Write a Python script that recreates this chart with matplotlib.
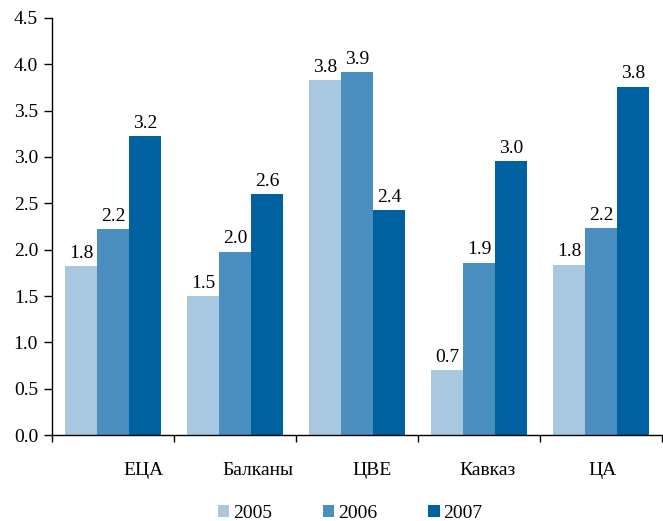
import matplotlib
matplotlib.use("Agg")
import matplotlib.pyplot as plt
import numpy as np
from matplotlib.patches import Patch

plt.rcParams['font.family'] = 'serif'
plt.rcParams['font.serif'] = ['Liberation Serif', 'DejaVu Serif']
FAM = 'Liberation Serif'

categories = ["ЕЦА", "Балканы", "ЦВЕ", "Кавказ", "ЦА"]
series_names = ["2005", "2006", "2007"]
v2005 = [1.82, 1.50, 3.83, 0.70, 1.84]
v2006 = [2.22, 1.98, 3.92, 1.86, 2.23]
v2007 = [3.23, 2.60, 2.43, 2.96, 3.76]
colors = ["#a7c8df", "#4a8fc0", "#0061a1"]
label_offsets = [0.25, 0.19, 0.12, 0.07, 0.01]

fig = plt.figure(figsize=(6.63, 5.21), dpi=100)
ax = fig.add_axes([0.0784, 0.165, 0.9201, 0.8005])

x = np.arange(len(categories))
w = 0.262
for i, (vals, col) in enumerate(zip([v2005, v2006, v2007], colors)):
    pos = x + (i - 1) * w
    ax.bar(pos, vals, width=w, color=col, edgecolor='none')
    for p, v in zip(pos, vals):
        ax.annotate(f"{v:.1f}", (p, v), xytext=(0, 3), textcoords='offset points',
                    ha='center', va='bottom', fontsize=14, family=FAM)

ax.set_xlim(-0.5, len(categories) - 0.5)
ax.set_ylim(0, 4.5)
yt = np.arange(0, 4.51, 0.5)
ax.set_yticks(yt)
ax.set_yticklabels([f"{t:.1f}" for t in yt], fontsize=14, family=FAM)
ax.set_xticks(np.arange(-0.5, len(categories), 1.0))
ax.set_xticklabels([])
ax.tick_params(axis='x', direction='out', length=5, width=1)
ax.tick_params(axis='y', direction='out', length=6, width=1, pad=4)
for s in ['top', 'right']:
    ax.spines[s].set_visible(False)
for s in ['left', 'bottom']:
    ax.spines[s].set_linewidth(1)

for xi, cat, off in zip(x, categories, label_offsets):
    ax.text(xi + off, -0.385, cat, ha='center', va='center', fontsize=14,
            family=FAM, transform=ax.transData)

handles = [Patch(facecolor=c, edgecolor='none') for c in colors]
fig.legend(handles, series_names, loc='center', bbox_to_anchor=(0.528, 0.015),
           ncol=3, frameon=False, prop={'family': FAM, 'size': 14},
           handlelength=0.6, handleheight=0.6,
           handletextpad=0.2, columnspacing=2.6)

fig.savefig("out.png", dpi=100)
